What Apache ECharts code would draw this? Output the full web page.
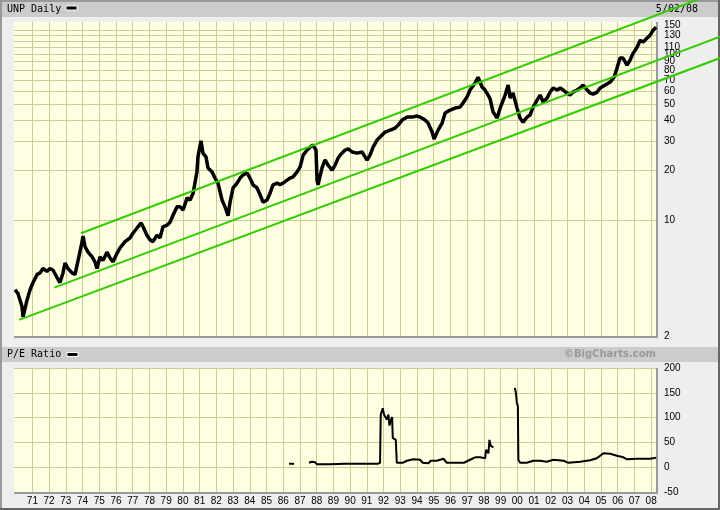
<!DOCTYPE html>
<html><head><meta charset="utf-8">
<script src="https://cdn.jsdelivr.net/npm/echarts@6/dist/echarts.min.js"></script>
<style>html,body{margin:0;padding:0;background:#eeeeee}#c{width:720px;height:510px}</style>
</head><body><div id="c"></div>
<script>
// ---- data ----
const priceDates = [1969.96,1970.14,1970.38,1970.44,1970.68,1970.86,1971.04,1971.28,1971.46,1971.63,1971.87,1972.05,1972.23,1972.47,1972.65,1972.83,1972.95,1973.13,1973.37,1973.55,1973.73,1973.91,1974.03,1974.15,1974.33,1974.57,1974.74,1974.86,1975.04,1975.22,1975.46,1975.64,1975.82,1976.06,1976.24,1976.54,1976.84,1977.02,1977.26,1977.50,1977.62,1977.85,1978.03,1978.21,1978.45,1978.63,1978.81,1979.05,1979.23,1979.41,1979.65,1979.83,1980.01,1980.25,1980.43,1980.61,1980.84,1980.90,1981.08,1981.20,1981.38,1981.50,1981.74,1981.92,1982.10,1982.34,1982.52,1982.70,1982.82,1983.00,1983.24,1983.42,1983.60,1983.84,1984.01,1984.19,1984.43,1984.67,1984.79,1985.03,1985.21,1985.39,1985.63,1985.81,1985.99,1986.23,1986.41,1986.59,1986.83,1987.01,1987.19,1987.43,1987.60,1987.78,1987.96,1988.02,1988.08,1988.32,1988.50,1988.68,1988.92,1989.10,1989.28,1989.40,1989.70,1989.88,1990.12,1990.41,1990.71,1990.89,1991.01,1991.19,1991.37,1991.61,1991.91,1992.09,1992.39,1992.69,1992.87,1993.11,1993.41,1993.70,1994.00,1994.18,1994.48,1994.66,1994.90,1995.02,1995.26,1995.50,1995.68,1995.98,1996.28,1996.58,1996.75,1996.99,1997.17,1997.47,1997.65,1997.89,1998.07,1998.25,1998.37,1998.55,1998.79,1998.97,1999.27,1999.45,1999.57,1999.74,1999.98,2000.16,2000.34,2000.58,2000.76,2000.94,2001.18,2001.36,2001.54,2001.78,2001.96,2002.14,2002.38,2002.56,2002.74,2002.97,2003.15,2003.33,2003.57,2003.75,2003.93,2004.17,2004.35,2004.53,2004.77,2004.95,2005.25,2005.55,2005.79,2005.96,2006.14,2006.32,2006.56,2006.74,2006.92,2007.16,2007.34,2007.52,2007.76,2007.94,2008.12,2008.30];
const priceClose = [3.8,3.6,3.0,2.6,3.3,3.8,4.2,4.7,4.8,5.1,4.9,5.1,5.0,4.5,4.2,4.8,5.5,5.1,4.8,4.7,5.7,6.9,8.0,6.9,6.4,6.0,5.6,5.1,6.0,5.7,6.4,5.9,5.6,6.3,6.8,7.4,7.8,8.35,8.95,9.6,9.1,8.1,7.6,7.4,8.1,7.8,9.1,9.3,9.7,10.7,12.0,12.0,11.5,13.6,13.2,14.5,19.5,24.0,30.0,25.3,24.0,20.6,19.5,17.9,16.7,13.2,12.0,10.6,12.8,15.6,16.7,17.9,18.7,19.2,17.9,16.3,15.6,13.8,12.8,13.2,14.5,16.3,16.7,16.3,16.7,17.4,17.9,18.2,19.5,20.9,24.6,26.4,27.5,28.3,26.4,17.4,16.3,20.6,23.0,21.4,20.0,21.4,23.6,24.6,26.4,26.8,25.7,25.3,25.7,24.0,23.0,24.6,27.5,30.3,32.5,33.9,34.8,35.8,37.3,40.0,41.7,41.7,42.3,41.7,40.0,38.4,33.9,30.8,34.8,38.4,44.1,46.0,47.3,47.9,50.7,55.1,60.7,66.9,72.5,63.3,60.7,56.6,53.6,44.7,41.2,47.3,56.6,65.1,54.3,58.2,47.3,41.2,38.9,41.7,42.9,47.9,52.8,56.6,51.4,54.3,59.0,62.4,60.7,62.4,60.7,58.2,56.6,59.0,60.7,62.4,65.1,60.7,58.2,57.4,59.0,62.4,65.1,67.8,72.7,82.4,94.6,94.6,85.8,92.0,101,110,121,118,125,130,139.5,145];

const channelUpper  = [[1973.91, 8.32], [2012.12, 239.6]];
const channelMiddle = [[1972.31, 3.91], [2012.12, 127.1]];
const channelLower  = [[1970.20, 2.50], [2012.12, 94.6]];

const peDates = [1986.35,1986.65,1987.0,1987.54,1987.72,1987.90,1988.02,1988.80,1989.70,1990.59,1991.67,1991.79,1991.83,1991.95,1992.03,1992.13,1992.19,1992.29,1992.35,1992.45,1992.51,1992.55,1992.64,1992.73,1992.79,1993.17,1993.39,1993.78,1994.18,1994.34,1994.68,1994.82,1995.18,1995.58,1995.68,1995.78,1996.81,1997.17,1997.47,1997.77,1998.07,1998.13,1998.27,1998.33,1998.41,1998.57,1999.0,1999.85,1999.91,1999.97,2000.03,2000.06,2000.16,2000.56,2000.76,2000.96,2001.36,2001.76,2002.16,2002.75,2003.05,2003.75,2004.35,2004.75,2005.15,2005.55,2005.95,2006.34,2006.54,2007.14,2007.54,2007.94,2008.30];
const peValues = [7,7,null,9,11,10,6,6,7,7,7,9,106,119,106,102,96,106,84,96,101,59,55,55,9,9,13,16,15,9,8,13,13,17,20,9,9,15,20,20,18,35,28,55,43,40,null,160,150,130,123,15,9,9,11,13,13,11,15,13,9,11,14,18,28,27,23,20,16,17,17,17,19];

const yearTicks = [1971,1972,1973,1974,1975,1976,1977,1978,1979,1980,1981,1982,1983,1984,1985,1986,1987,1988,1989,1990,1991,1992,1993,1994,1995,1996,1997,1998,1999,2000,2001,2002,2003,2004,2005,2006,2007,2008];
const priceLabelTicks = [2,10,20,30,40,50,60,70,80,90,100,110,130,150];
const priceGridTicks = [10,20,30,40,50,60,70,80,90,100,110,120,130,140];

// ---- chart ----
const GRID_C = '#cccc99';
const LABEL_FONT = 'Liberation Sans, Arial, sans-serif';
const MONO = '"DejaVu Sans Mono", monospace';
const zip = (a, b) => a.map((v, i) => [v, b[i]]);

// main plot: x 14..657 spans 1969.9..2008.35 ; y 22..336 spans 156..2 (log)
const X_MIN = 1969.9, X_MAX = 2008.35, PLOT_W = 643;
const PX_PER_YEAR = PLOT_W / (X_MAX - X_MIN);
const P_MIN = 2, P_MAX = 156, PLOT_H = 314;
const PX_PER_DECADE = PLOT_H / Math.log10(P_MAX / P_MIN);
// overlay grid with the same scale, reaching the right and top edges of the picture
const OV_X_MAX = X_MIN + 706 / PX_PER_YEAR;
const OV_P_MAX = P_MAX * Math.pow(10, 22 / PX_PER_DECADE);

const chart = echarts.init(document.getElementById('c'), null, {renderer: 'canvas'});
const xBase = {
  type: 'value', min: X_MIN, max: X_MAX,
  axisLine: {show: false},
  axisTick: {show: false, customValues: yearTicks},
  splitLine: {show: true, lineStyle: {color: GRID_C, width: 1}}
};
const green = data => ({type: 'line', xAxisIndex: 2, yAxisIndex: 2, data: data, showSymbol: false,
  lineStyle: {color: '#33cc00', width: 2}, z: 4});
chart.setOption({
  animation: false,
  backgroundColor: '#eeeeee',
  grid: [
    {left: 14, top: 22, width: PLOT_W, height: PLOT_H, show: true, backgroundColor: '#ffffe2', borderWidth: 0},
    {left: 14, top: 368, width: PLOT_W, height: 124, show: true, backgroundColor: '#ffffe2', borderWidth: 0},
    {left: 14, top: 0, width: 706, height: 336, show: false}
  ],
  xAxis: [
    Object.assign({}, xBase, {gridIndex: 0, axisLabel: {show: false}}),
    Object.assign({}, xBase, {gridIndex: 1, axisLabel: {
      show: true, customValues: yearTicks, margin: 4, color: '#000', fontSize: 10, fontFamily: LABEL_FONT,
      formatter: v => String(Math.round(v) % 100).padStart(2, '0')
    }}),
    {type: 'value', gridIndex: 2, min: X_MIN, max: OV_X_MAX, show: false, splitLine: {show: false}}
  ],
  yAxis: [
    {
      type: 'log', logBase: 10, gridIndex: 0, position: 'right', min: P_MIN, max: P_MAX,
      axisLine: {show: false},
      axisTick: {show: false, customValues: priceGridTicks},
      axisLabel: {customValues: priceLabelTicks, margin: 7, color: '#000', fontSize: 10, fontFamily: LABEL_FONT},
      splitLine: {show: true, lineStyle: {color: GRID_C, width: 1}}
    },
    {
      type: 'value', gridIndex: 1, position: 'right', min: -50, max: 200, interval: 50,
      axisLine: {show: false}, axisTick: {show: false},
      axisLabel: {margin: 7, color: '#000', fontSize: 10, fontFamily: LABEL_FONT},
      splitLine: {show: true, lineStyle: {color: GRID_C, width: 1}}
    },
    {type: 'log', logBase: 10, gridIndex: 2, min: P_MIN, max: OV_P_MAX, show: false, splitLine: {show: false}}
  ],
  series: [
    {type: 'line', xAxisIndex: 0, yAxisIndex: 0, data: zip(priceDates, priceClose), showSymbol: false,
     lineStyle: {color: '#000', width: 3.5}, z: 3},
    green(channelUpper),
    green(channelMiddle),
    green(channelLower),
    {type: 'line', xAxisIndex: 1, yAxisIndex: 1, data: zip(peDates, peValues), showSymbol: false, connectNulls: false,
     lineStyle: {color: '#000', width: 2}, z: 3}
  ],
  graphic: [
    {type: 'rect', shape: {x: 0, y: 0, width: 720, height: 2}, style: {fill: '#999999'}, silent: true},
    {type: 'rect', shape: {x: 0, y: 0, width: 2, height: 510}, style: {fill: '#999999'}, silent: true},
    {type: 'rect', shape: {x: 718, y: 0, width: 2, height: 510}, style: {fill: '#666666'}, silent: true},
    {type: 'rect', shape: {x: 0, y: 508, width: 720, height: 2}, style: {fill: '#666666'}, silent: true},
    {type: 'rect', shape: {x: 2, y: 2, width: 716, height: 15}, style: {fill: '#cccccc'}, silent: true},
    {type: 'rect', shape: {x: 2, y: 347, width: 716, height: 15}, style: {fill: '#cccccc'}, silent: true},
    {type: 'text', x: 7, y: 9.5, style: {text: 'UNP Daily', font: '10px ' + MONO, fill: '#000', verticalAlign: 'middle'}},
    {type: 'rect', shape: {x: 66, y: 6, width: 11, height: 4}, style: {fill: '#000', stroke: '#fff', lineWidth: 1}},
    {type: 'text', x: 698, y: 9.5, style: {text: '5/02/08', font: '10px ' + MONO, fill: '#000', align: 'right', verticalAlign: 'middle'}},
    {type: 'text', x: 7, y: 354.5, style: {text: 'P/E Ratio', font: '10px ' + MONO, fill: '#000', verticalAlign: 'middle'}},
    {type: 'rect', shape: {x: 67, y: 352.5, width: 11, height: 4}, style: {fill: '#000', stroke: '#fff', lineWidth: 1}},
    {type: 'text', x: 656, y: 354.5, style: {text: '©BigCharts.com', font: 'bold 10px "DejaVu Sans", sans-serif', fill: '#999999', align: 'right', verticalAlign: 'middle'}},
    {type: 'rect', shape: {x: 656, y: 22, width: 2, height: 316}, style: {fill: '#999999'}, silent: true, z: 1},
    {type: 'rect', shape: {x: 14, y: 336, width: 644, height: 2}, style: {fill: '#999999'}, silent: true, z: 1},
    {type: 'rect', shape: {x: 656, y: 368, width: 2, height: 126}, style: {fill: '#999999'}, silent: true, z: 1},
    {type: 'rect', shape: {x: 14, y: 492, width: 644, height: 2}, style: {fill: '#999999'}, silent: true, z: 1}
  ]
});
</script>
</body></html>
